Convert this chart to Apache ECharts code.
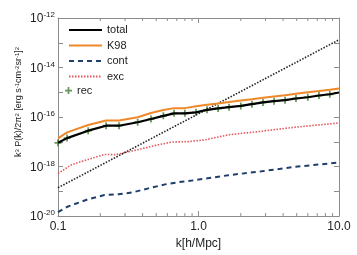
<!DOCTYPE html>
<html><head><meta charset="utf-8">
<script src="https://cdn.jsdelivr.net/npm/echarts@6/dist/echarts.min.js"></script>
<style>html,body{margin:0;padding:0;background:#fff}#c{width:357px;height:255px}</style>
</head><body><div id="c"></div>
<script>
// ---- data ----
var kMain = [0.1, 0.116, 0.164, 0.22, 0.272, 0.369, 0.459, 0.562, 0.67, 0.80, 0.96, 1.15, 1.38, 1.65, 2.0, 2.4, 2.88, 3.45, 4.13, 4.94, 6.0, 7.2, 8.6, 10];
var totalVals = [9.1e-18, 1.41e-17, 2.82e-17, 4.47e-17, 4.47e-17, 6.17e-17, 8.3e-17, 1.12e-16, 1.41e-16, 1.41e-16, 1.55e-16, 1.95e-16, 2.24e-16, 2.51e-16, 2.82e-16, 3.31e-16, 3.89e-16, 4.37e-16, 4.79e-16, 5.62e-16, 6.31e-16, 7.41e-16, 8.32e-16, 9.77e-16];
var k98Vals = [1.38e-17, 2.4e-17, 4.79e-17, 7.24e-17, 7.24e-17, 9.77e-17, 1.45e-16, 1.91e-16, 2.29e-16, 2.29e-16, 2.75e-16, 3.16e-16, 3.55e-16, 4.07e-16, 4.68e-16, 5.25e-16, 6.03e-16, 6.76e-16, 7.59e-16, 8.71e-16, 1.0e-15, 1.12e-15, 1.26e-15, 1.41e-15];
var kRec = [0.1, 0.116, 0.164, 0.22, 0.272, 0.369, 0.459, 0.562, 0.67, 0.80, 0.96, 1.15, 1.38, 1.65, 2.0, 2.4, 2.88, 3.45, 4.13, 4.94, 6.0, 7.2, 8.6];
var recVals = [9.1e-18, 1.41e-17, 2.82e-17, 4.47e-17, 4.47e-17, 6.17e-17, 8.3e-17, 1.12e-16, 1.41e-16, 1.41e-16, 1.55e-16, 1.95e-16, 2.24e-16, 2.51e-16, 2.82e-16, 3.31e-16, 3.89e-16, 4.37e-16, 4.79e-16, 5.62e-16, 6.31e-16, 7.41e-16, 8.32e-16];
var kExc = [0.1, 0.125, 0.164, 0.214, 0.255, 0.30, 0.394, 0.518, 0.645, 0.846, 1.11, 1.63, 2.82, 4.86, 10];
var excVals = [5.25e-19, 1.2e-18, 1.95e-18, 3.09e-18, 3.02e-18, 3.63e-18, 5.25e-18, 7.59e-18, 9.77e-18, 1.02e-17, 1.2e-17, 1.91e-17, 2.69e-17, 3.89e-17, 5.75e-17];
var kCont = [0.1, 0.118, 0.164, 0.214, 0.269, 0.335, 0.44, 0.578, 0.758, 0.944, 1.63, 2.82, 4.86, 10];
var contVals = [1.45e-20, 2.45e-20, 4.79e-20, 7.08e-20, 7.59e-20, 8.91e-20, 1.32e-19, 1.91e-19, 2.45e-19, 2.82e-19, 4.47e-19, 6.46e-19, 9.77e-19, 1.45e-18];
var kShot = [0.1, 10];
var shotVals = [1.4e-19, 1.32e-13];
var xTickLabels = {'-1': '0.1', '0': '1.0', '1': '10.0'};
var xMinorTicks = [0.2, 0.3, 0.4, 0.5, 0.6, 0.7, 0.8, 0.9, 2, 3, 4, 5, 6, 7, 8, 9];

function pairs(xs, ys) { return xs.map(function (x, i) { return [x, ys[i]]; }); }

var FONT = 'Liberation Sans, Arial, sans-serif';
var AXC = '#8c8c8c';
var plus = 'path://M3,0H5V3H8V5H5V8H3V5H0V3H3Z';

var chart = echarts.init(document.getElementById('c'), null, {renderer: 'canvas'});

function xFmt(v) {
  var e = Math.round(Math.log10(v));
  return xTickLabels[String(e)] || '';
}
function yFmt(v) {
  var e = Math.round(Math.log10(v));
  if (e % 2 !== 0) return '';
  return '{b|10}{s|' + e + '}';
}

var baseX = {
  type: 'log', logBase: 10, min: 0.1, max: 10,
  axisLine: {lineStyle: {color: AXC, width: 1}},
  axisTick: {inside: true, length: 5, lineStyle: {color: AXC}},
  splitLine: {show: false}, minorTick: {show: false}
};
var baseY = {
  type: 'log', logBase: 10, min: 1e-20, max: 1e-12, interval: 1,
  axisLine: {lineStyle: {color: AXC, width: 1}},
  axisTick: {inside: true, length: 5, lineStyle: {color: AXC}},
  splitLine: {show: false}, minorTick: {show: false}
};

var option = {
  animation: false,
  grid: {left: 58, right: 18, top: 18, bottom: 37, containLabel: false},
  xAxis: [
    Object.assign({}, baseX, {
      position: 'bottom',
      name: 'k[h/Mpc]', nameLocation: 'middle', nameGap: 20,
      nameTextStyle: {color: '#222', fontSize: 12, fontFamily: FONT},
      axisLabel: {formatter: xFmt, color: '#222', fontSize: 12, fontFamily: FONT, margin: 5}
    }),
    Object.assign({}, baseX, {position: 'top', axisLabel: {show: false}})
  ],
  yAxis: [
    Object.assign({}, baseY, {
      position: 'left',
      axisLabel: {formatter: yFmt, margin: 3, color: '#222', fontFamily: FONT,
        rich: {b: {fontSize: 12, fontFamily: FONT, color: '#222', verticalAlign: 'bottom'},
               s: {fontSize: 8, fontFamily: FONT, color: '#222', verticalAlign: 'top', padding: [0, 0, 6, 0]}}}
    }),
    Object.assign({}, baseY, {position: 'right', axisLabel: {show: false}})
  ],
  legend: [
    {data: ['total', 'K98', 'cont', 'exc'],
     orient: 'vertical', left: 68, top: 24, padding: 0,
     itemWidth: 33, itemHeight: 10, itemGap: 3.5,
     itemStyle: {color: 'rgba(0,0,0,0)', borderColor: 'rgba(0,0,0,0)', borderWidth: 0},
     textStyle: {fontSize: 11, fontFamily: FONT, color: '#222', lineHeight: 12}},
    {data: ['rec'], orient: 'vertical', left: 65, top: 85, padding: 0,
     itemWidth: 7, itemHeight: 7, itemGap: 3,
     textStyle: {fontSize: 11, fontFamily: FONT, color: '#222'}}
  ],
  series: [
    {name: 'cont', type: 'line', data: pairs(kCont, contVals), symbol: 'none',
     lineStyle: {color: '#1f3e6b', width: 2, type: [5, 4]}, itemStyle: {color: '#1f3e6b'}},
    {name: 'exc', type: 'line', data: pairs(kExc, excVals), symbol: 'none',
     lineStyle: {color: '#e4575a', width: 1.6, type: [1.5, 1.5]}, itemStyle: {color: '#e4575a'}},
    {name: 'shot', type: 'line', data: pairs(kShot, shotVals), symbol: 'none',
     lineStyle: {color: '#222', width: 1.6, type: [1.5, 1.5]}},
    {name: 'K98', type: 'line', data: pairs(kMain, k98Vals), symbol: 'none',
     lineStyle: {color: '#f0882a', width: 2}, itemStyle: {color: '#f0882a'}},
    {name: 'total', type: 'line', data: pairs(kMain, totalVals), symbol: 'none',
     lineStyle: {color: '#000', width: 2.2}, itemStyle: {color: '#000'}},
    {name: 'rec', type: 'scatter', data: pairs(kRec, recVals), symbol: plus, symbolSize: 7,
     itemStyle: {color: '#3e7d2e'}}
  ]
};
chart.setOption(option);

// minor x ticks on bottom and top axes, placed through the axis scale
var g = [];
var rect = chart.getModel().getComponent('grid', 0).coordinateSystem.getRect();
xMinorTicks.forEach(function (v) {
  var px = chart.convertToPixel({xAxisIndex: 0}, v);
  g.push({type: 'line', shape: {x1: px, y1: rect.y + rect.height, x2: px, y2: rect.y + rect.height - 3},
          style: {stroke: AXC, lineWidth: 1}, silent: true});
  g.push({type: 'line', shape: {x1: px, y1: rect.y, x2: px, y2: rect.y + 3},
          style: {stroke: AXC, lineWidth: 1}, silent: true});
});
g.push({type: 'text', x: 19, y: 102, rotation: Math.PI / 2,
  style: {text: 'k{s|3} P(k)/2π{s|2} [erg s{s|-1}cm{s|-2}sr{s|-1}]{s|2}', fill: '#222', font: '9px ' + FONT,
    align: 'center', verticalAlign: 'middle',
    rich: {s: {fontSize: 6, fontFamily: FONT, fill: '#222', verticalAlign: 'top', padding: [0, 0, 4, 0]}}},
  silent: true});
chart.setOption({graphic: g});
</script></body></html>
